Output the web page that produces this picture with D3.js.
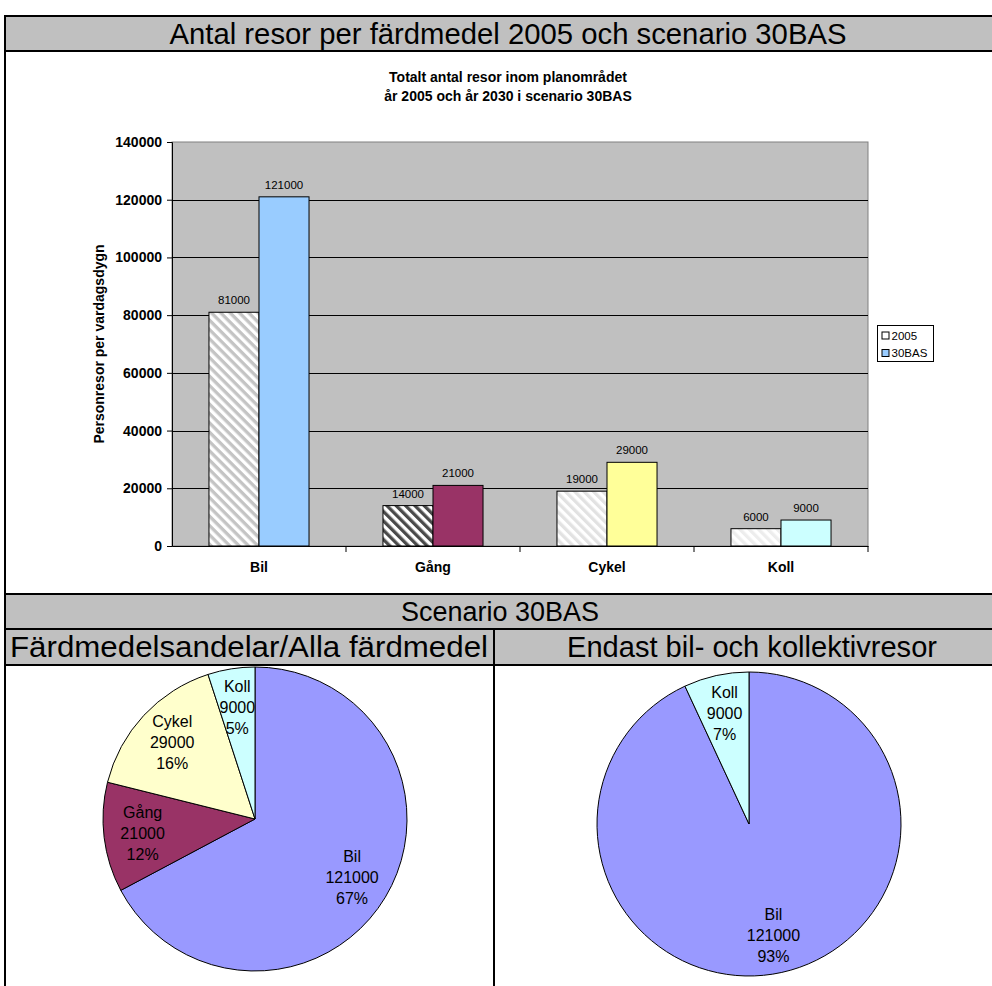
<!DOCTYPE html>
<html>
<head>
<meta charset="utf-8">
<script src="https://cdn.jsdelivr.net/npm/d3@7"></script>
<style>
  body { margin: 0; background: #fff; }
  svg { display: block; font-family: "Liberation Sans", Arial, sans-serif; }
</style>
</head>
<body>
<svg id="chart" width="992" height="986"></svg>
<script>
// ---- data ----
const categories = ["Bil", "Gång", "Cykel", "Koll"];
const seriesNames = ["2005", "30BAS"];
const values2005 = [81000, 14000, 19000, 6000];
const values30BAS = [121000, 21000, 29000, 9000];
const yTicks = [0, 20000, 40000, 60000, 80000, 100000, 120000, 140000];

const pieAllLabels = ["Bil", "Gång", "Cykel", "Koll"];
const pieAllValues = [121000, 21000, 29000, 9000];
const pieCarLabels = ["Bil", "Koll"];
const pieCarValues = [121000, 9000];

// ---- styles ----
const colors30BAS = ["#99ccff", "#993366", "#ffff99", "#ccffff"];
const hatch2005 = [
  { bg: "#c4c4c4", fg: "#ffffff" },
  { bg: "#ffffff", fg: "#4a4a4a" },
  { bg: "#ffffff", fg: "#e2e2e2" },
  { bg: "#ffffff", fg: "#ededed" }
];
const pieColors = { "Bil": "#9999ff", "Gång": "#993366", "Cykel": "#ffffcc", "Koll": "#ccffff" };
const bandFill = "#c0c0c0";

const svg = d3.select("#chart");
const defs = svg.append("defs");

// diagonal hatch fills for the 2005 bars
hatch2005.forEach((h, i) => {
  const p = defs.append("pattern")
    .attr("id", "hatch" + i)
    .attr("patternUnits", "userSpaceOnUse")
    .attr("width", 6.6).attr("height", 10)
    .attr("patternTransform", "rotate(-45)");
  p.append("rect").attr("width", 6.6).attr("height", 10).attr("fill", h.bg);
  p.append("rect").attr("width", 3.3).attr("height", 10).attr("fill", h.fg);
});

// ---- table frame and header bands ----
const frame = { left: 5, right: 1011, top: 16, bottom: 986 };
const rows = { title: [16, 51], bars: [51, 594], scen: [594, 629], sub: [629, 665] };
const splitX = 494;

svg.append("rect").attr("x", frame.left).attr("y", rows.title[0])
  .attr("width", frame.right - frame.left).attr("height", rows.title[1] - rows.title[0]).attr("fill", bandFill);
svg.append("rect").attr("x", frame.left).attr("y", rows.scen[0])
  .attr("width", frame.right - frame.left).attr("height", rows.sub[1] - rows.scen[0]).attr("fill", bandFill);

const headerText = (txt, cx, baseline, size, len) => {
  const t = svg.append("text").attr("x", cx).attr("y", baseline)
    .attr("text-anchor", "middle").attr("font-size", size).attr("fill", "#000").text(txt);
  if (len) t.attr("textLength", len).attr("lengthAdjust", "spacingAndGlyphs");
  return t;
};
headerText("Antal resor per färdmedel 2005 och scenario 30BAS", 508, 44, 30, 677);
headerText("Scenario 30BAS", 500, 621, 27, 198);
headerText("Färdmedelsandelar/Alla färdmedel", 249, 657, 29, 478);
headerText("Endast bil- och kollektivresor", 752, 657, 29, 370);

const lines = svg.append("g").attr("stroke", "#000").attr("stroke-width", 2);
[rows.title[0], rows.title[1], rows.bars[1], rows.scen[1], rows.sub[1]].forEach(yy => {
  lines.append("line").attr("x1", frame.left).attr("x2", frame.right).attr("y1", yy).attr("y2", yy);
});
lines.append("line").attr("x1", frame.left).attr("x2", frame.left).attr("y1", frame.top - 1).attr("y2", frame.bottom);
lines.append("line").attr("x1", splitX).attr("x2", splitX).attr("y1", rows.scen[1]).attr("y2", frame.bottom);

// ---- bar chart ----
const plot = { x0: 172, x1: 868, y0: 142, y1: 546 };

svg.append("text").attr("x", 508).attr("y", 82).attr("text-anchor", "middle")
  .attr("font-size", 14).attr("font-weight", "bold").text("Totalt antal resor inom planområdet");
svg.append("text").attr("x", 508).attr("y", 101).attr("text-anchor", "middle")
  .attr("font-size", 14).attr("font-weight", "bold").text("år 2005 och år 2030 i scenario 30BAS");

const x0 = d3.scaleBand().domain(categories).range([plot.x0, plot.x1])
  .paddingInner(0.425).paddingOuter(0.2125);
const x1 = d3.scaleBand().domain(seriesNames).range([0, x0.bandwidth()]);
const y = d3.scaleLinear().domain([0, 140000]).range([plot.y1, plot.y0]);

// plot area
svg.append("rect").attr("x", plot.x0).attr("y", plot.y0)
  .attr("width", plot.x1 - plot.x0).attr("height", plot.y1 - plot.y0)
  .attr("fill", bandFill).attr("stroke", "#808080").attr("stroke-width", 1);

// gridlines
svg.append("g").selectAll("line").data(yTicks.filter(v => v > 0 && v < 140000)).join("line")
  .attr("x1", plot.x0).attr("x2", plot.x1)
  .attr("y1", d => Math.round(y(d)) + 0.5).attr("y2", d => Math.round(y(d)) + 0.5)
  .attr("stroke", "#000").attr("stroke-width", 1);

// bars
const groups = svg.append("g").selectAll("g").data(categories).join("g")
  .attr("transform", d => `translate(${x0(d)},0)`);

const barData = (c, i) => [
  { series: "2005", v: values2005[i], fill: `url(#hatch${i})` },
  { series: "30BAS", v: values30BAS[i], fill: colors30BAS[i] }
];

groups.selectAll("rect").data(barData).join("rect")
  .attr("x", d => x1(d.series))
  .attr("y", d => y(d.v))
  .attr("width", x1.bandwidth())
  .attr("height", d => y(0) - y(d.v))
  .attr("fill", d => d.fill)
  .attr("stroke", "#000").attr("stroke-width", 1);

groups.selectAll("text").data(barData).join("text")
  .attr("x", d => x1(d.series) + x1.bandwidth() / 2)
  .attr("y", d => y(d.v) - 8)
  .attr("text-anchor", "middle").attr("font-size", 11.5).attr("fill", "#000")
  .text(d => d.v);

// y axis
const yAxis = svg.append("g").attr("transform", `translate(${plot.x0},0)`)
  .call(d3.axisLeft(y).tickValues(yTicks).tickSize(5).tickPadding(5).tickFormat(d3.format("d")));
yAxis.select(".domain").attr("stroke", "#000");
yAxis.selectAll("line").attr("stroke", "#000");
yAxis.selectAll("text").attr("font-size", 14).attr("font-weight", "bold")
  .attr("font-family", "Liberation Sans, Arial, sans-serif").attr("fill", "#000");

svg.append("text")
  .attr("transform", `translate(104,${(plot.y0 + plot.y1) / 2}) rotate(-90)`)
  .attr("text-anchor", "middle").attr("font-size", 14).attr("font-weight", "bold")
  .text("Personresor per vardagsdygn");

// x axis
const xAxis = svg.append("g").attr("transform", `translate(0,${plot.y1})`)
  .call(d3.axisBottom(x0).tickSize(0).tickPadding(16));
xAxis.select(".domain").attr("stroke", "#000");
xAxis.selectAll("text").attr("font-size", 14).attr("font-weight", "bold")
  .attr("font-family", "Liberation Sans, Arial, sans-serif").attr("fill", "#000");
xAxis.selectAll(".boundary").data(d3.range(1, categories.length + 1)).join("line")
  .attr("class", "boundary")
  .attr("x1", i => plot.x0 + i * x0.step()).attr("x2", i => plot.x0 + i * x0.step())
  .attr("y1", 0).attr("y2", 6).attr("stroke", "#000");

// legend
const legend = svg.append("g").attr("transform", "translate(877.5,325.5)");
legend.append("rect").attr("width", 56).attr("height", 36)
  .attr("fill", "#fff").attr("stroke", "#000").attr("stroke-width", 1);
const legendFill = ["#ffffff", colors30BAS[0]];
seriesNames.forEach((s, i) => {
  const yy = 10 + i * 17.5;
  legend.append("rect").attr("x", 4.5).attr("y", yy - 3.5).attr("width", 7).attr("height", 7)
    .attr("fill", legendFill[i]).attr("stroke", "#000").attr("stroke-width", 1);
  legend.append("text").attr("x", 14).attr("y", yy + 4.2).attr("font-size", 11.5).text(s);
});

// ---- pies ----
function drawPie(labels, values, cx, cy, R) {
  const total = d3.sum(values);
  const data = labels.map((l, i) => ({ label: l, v: values[i] }));
  const arcs = d3.pie().sort(null).value(d => d.v)(data);
  const arc = d3.arc().innerRadius(0).outerRadius(R);
  const labelArc = d3.arc().innerRadius(R * 0.745).outerRadius(R * 0.745);
  const g = svg.append("g").attr("transform", `translate(${cx},${cy})`);
  g.selectAll("path").data(arcs).join("path")
    .attr("d", arc).attr("fill", d => pieColors[d.data.label])
    .attr("stroke", "#000").attr("stroke-width", 1);
  const t = g.selectAll("text").data(arcs).join("text")
    .attr("transform", d => `translate(${labelArc.centroid(d)})`)
    .attr("text-anchor", "middle").attr("font-size", 16).attr("fill", "#000");
  t.each(function (d) {
    const parts = [d.data.label, d.data.v, Math.round(d.data.v / total * 100) + "%"];
    d3.select(this).selectAll("tspan").data(parts).join("tspan")
      .attr("x", 0).attr("y", (p, k) => (k - 1) * 21 + 6).text(p => p);
  });
}
drawPie(pieAllLabels, pieAllValues, 255, 819, 152);
drawPie(pieCarLabels, pieCarValues, 749, 824, 152);
</script>
</body>
</html>
